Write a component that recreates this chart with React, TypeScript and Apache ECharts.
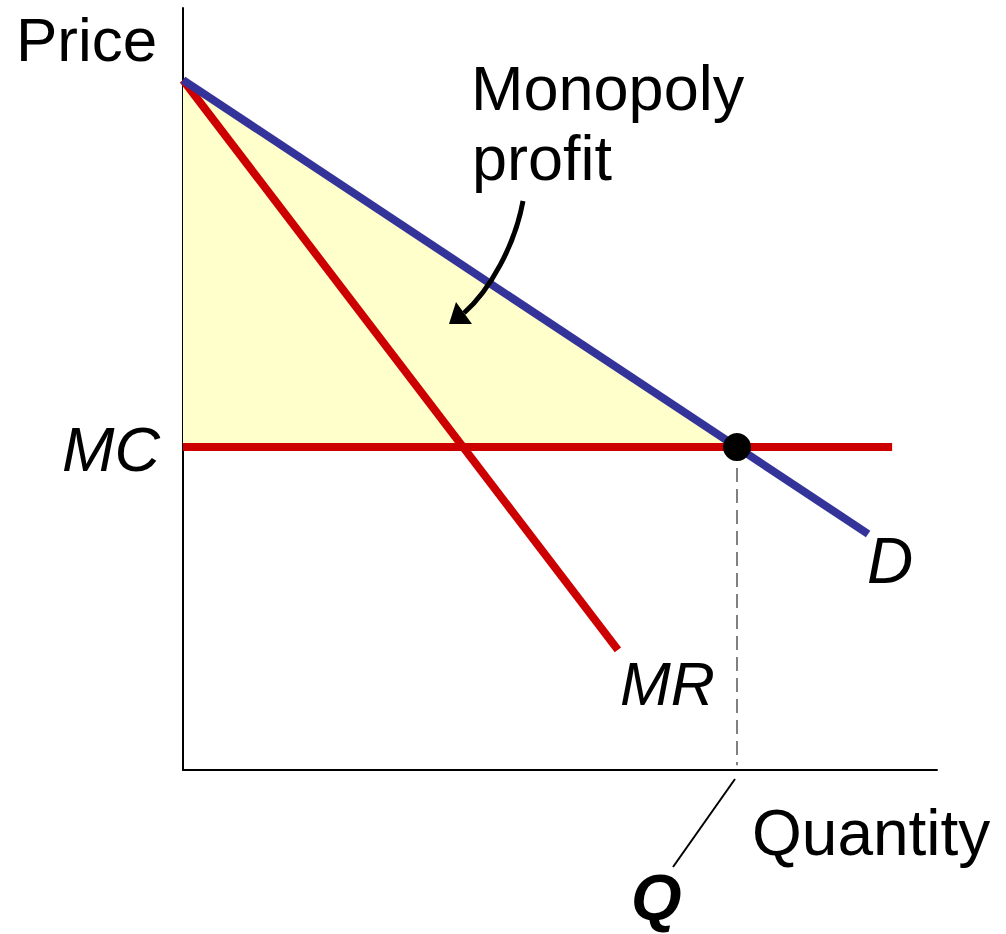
import React, { useEffect, useRef } from "react";
import * as echarts from "echarts";

// Economic model values (price units on y, quantity units on x)
const axisMaxQ = 8.166;
const axisMaxP = 11.043;
const demand = [
  [0, 10],
  [7.42, 3.42],
];
const marginalRevenue = [
  [0, 10],
  [4.71, 1.74],
];
const marginalCost = [
  [0, 4.68],
  [7.68, 4.68],
];
const equilibrium = [[6, 4.68]];
const qDrop = [
  [6, 4.68],
  [6, 0.07],
];
const profitArea = [
  [0, 10],
  [0, 4.68],
  [6, 4.68],
];
const labels = {
  price: "Price",
  quantity: "Quantity",
  profit1: "Monopoly",
  profit2: "profit",
  mc: "MC",
  mr: "MR",
  d: "D",
  q: "Q",
};

const FONT = "'Liberation Sans', Arial, sans-serif";
const BLUE = "#333399";
const RED = "#CC0000";

export default function App() {
  const ref = useRef<HTMLDivElement>(null);
  useEffect(() => {
    document.body.style.margin = "0";
    document.body.style.overflow = "hidden";
    const chart = echarts.init(ref.current!, null, { renderer: "svg" });
    const txt = (
      text: string,
      x: number,
      y: number,
      size: number,
      align: string,
      style: string = "normal",
      weight: string = "normal"
    ) => ({
      type: "text",
      x,
      y,
      z: 100,
      style: {
        text,
        fontSize: size,
        fontFamily: FONT,
        fontStyle: style,
        fontWeight: weight,
        fill: "#000",
        textAlign: align,
        textVerticalAlign: "middle",
      },
    });
    chart.setOption({
      animation: false,
      backgroundColor: "#fff",
      grid: { left: 183, top: 8, width: 754, height: 762 },
      xAxis: {
        type: "value",
        min: 0,
        max: axisMaxQ,
        axisLine: { show: true, lineStyle: { color: "#000", width: 2 } },
        axisTick: { show: false },
        axisLabel: { show: false },
        splitLine: { show: false },
      },
      yAxis: {
        type: "value",
        min: 0,
        max: axisMaxP,
        axisLine: { show: true, lineStyle: { color: "#000", width: 2 } },
        axisTick: { show: false },
        axisLabel: { show: false },
        splitLine: { show: false },
      },
      series: [
        {
          type: "custom",
          z: 1,
          data: [profitArea[0]],
          renderItem: (_p: any, api: any) => ({
            type: "polygon",
            shape: { points: profitArea.map((pt) => api.coord(pt)) },
            style: { fill: "#FFFFCC" },
          }),
        },
        {
          type: "line",
          z: 2,
          data: qDrop,
          symbol: "none",
          lineStyle: { color: "#808080", width: 2, type: [14, 7] },
        },
        {
          type: "line",
          z: 3,
          data: marginalRevenue,
          symbol: "none",
          lineStyle: { color: RED, width: 8, cap: "butt" },
        },
        {
          type: "line",
          z: 4,
          data: marginalCost,
          symbol: "none",
          lineStyle: { color: RED, width: 8, cap: "butt" },
        },
        {
          type: "line",
          z: 5,
          data: demand,
          symbol: "none",
          lineStyle: { color: BLUE, width: 8, cap: "butt" },
        },
        {
          type: "scatter",
          z: 6,
          data: equilibrium,
          symbol: "circle",
          symbolSize: 28,
          itemStyle: { color: "#000", opacity: 1 },
        },
      ],
      graphic: [
        txt(labels.price, 16, 39, 62, "left"),
        txt(labels.profit1, 471, 88, 63, "left"),
        txt(labels.profit2, 472, 158, 63, "left"),
        txt(labels.mc, 160, 449, 63, "right", "italic"),
        txt(labels.d, 867, 561, 64, "left", "italic"),
        txt(labels.mr, 620, 684, 61, "left", "italic"),
        txt(labels.quantity, 752, 833, 64, "left"),
        txt(labels.q, 631, 897, 65, "left", "italic", "bold"),
        {
          type: "bezierCurve",
          z: 100,
          shape: { x1: 523, y1: 201, cpx1: 515, cpy1: 245, cpx2: 490, cpy2: 290, x2: 464, y2: 313 },
          style: { stroke: "#000", lineWidth: 5, fill: null },
        },
        {
          type: "polygon",
          z: 100,
          shape: { points: [[449, 324], [472, 324], [456, 302]] },
          style: { fill: "#000" },
        },
        {
          type: "line",
          z: 100,
          shape: { x1: 735, y1: 779, x2: 673, y2: 867 },
          style: { stroke: "#000", lineWidth: 2 },
        },
      ],
    });
    return () => chart.dispose();
  }, []);
  return <div ref={ref} style={{ width: 1006, height: 934 }} />;
}
